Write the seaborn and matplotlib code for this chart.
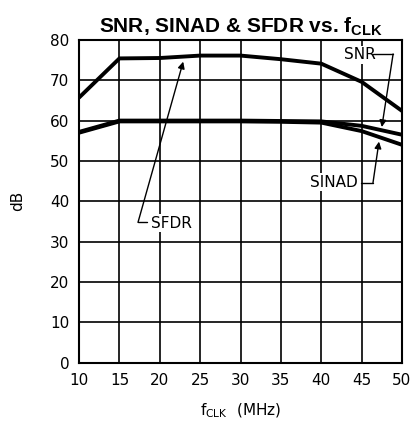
import numpy as np
import pandas as pd
import seaborn as sns
import matplotlib
matplotlib.use("Agg")
import matplotlib.pyplot as plt

# values
fclk = [10, 15, 20, 25, 30, 35, 40, 45, 50]
sfdr = [65.7, 75.4, 75.5, 76.1, 76.1, 75.2, 74.1, 69.6, 62.4]
snr = [57.2, 60.0, 60.0, 60.0, 60.0, 59.9, 59.8, 58.7, 56.5]
sinad = [57.0, 59.8, 59.8, 59.8, 59.8, 59.7, 59.5, 57.4, 54.0]

sns.set_style("white")
plt.rcParams['font.family'] = ['DejaVu Sans']
plt.rcParams['text.color'] = 'black'
plt.rcParams['axes.labelcolor'] = 'black'
plt.rcParams['xtick.color'] = 'black'
plt.rcParams['ytick.color'] = 'black'
plt.rcParams['mathtext.fontset'] = 'custom'
plt.rcParams['mathtext.bf'] = 'Liberation Sans:bold'
plt.rcParams['mathtext.rm'] = 'DejaVu Sans'
plt.rcParams['mathtext.it'] = 'DejaVu Sans'

df = pd.DataFrame({
    'fclk': fclk * 3,
    'dB': sfdr + snr + sinad,
    'curve': ['SFDR'] * len(fclk) + ['SNR'] * len(fclk) + ['SINAD'] * len(fclk),
})

fig = plt.figure(figsize=(4.14, 4.33), dpi=100)
ax = fig.add_axes([0.191, 0.162, 0.780, 0.746])

sns.lineplot(data=df, x='fclk', y='dB', units='curve', estimator=None,
             color='black', lw=2.8, ax=ax, legend=False, zorder=3)

ax.set_xlim(10, 50)
ax.set_ylim(0, 80)
ax.set_xticks(np.arange(10, 51, 5))
ax.set_yticks(np.arange(0, 81, 10))
ax.grid(True, color='black', lw=1.2)
for s in ax.spines.values():
    s.set_color('black')
    s.set_linewidth(1.5)
ax.tick_params(length=0, labelsize=11, pad=7)

ax.set_xlabel(r'f$_{\rm CLK}$  (MHz)', fontsize=11, labelpad=10)
ax.set_ylabel('dB', fontsize=11, labelpad=18)
ax.set_title(r'SNR, SINAD & SFDR vs. f$_{\mathbf{CLK}}$', fontsize=15,
             fontweight='bold', family='Liberation Sans', pad=5)

arrow = dict(arrowstyle='-|>', color='black', lw=1, mutation_scale=10,
             shrinkA=0, shrinkB=0)
# SNR label
ax.text(44.8, 76.3, 'SNR', fontsize=11, ha='center', va='center',
        bbox=dict(fc='white', ec='none', pad=1), zorder=4)
ax.plot([46.4, 48.9], [76.5, 76.5], color='black', lw=1, zorder=5)
ax.annotate('', xy=(47.5, 58.4), xytext=(48.9, 76.5), arrowprops=arrow, zorder=5)
# SINAD label
ax.text(41.6, 44.7, 'SINAD', fontsize=11, ha='center', va='center',
        bbox=dict(fc='white', ec='none', pad=1), zorder=4)
ax.plot([44.9, 46.4], [44.5, 44.5], color='black', lw=1, zorder=5)
ax.annotate('', xy=(47.15, 54.8), xytext=(46.4, 44.5), arrowprops=arrow, zorder=5)
# SFDR label
ax.text(21.5, 34.6, 'SFDR', fontsize=11, ha='center', va='center',
        bbox=dict(fc='white', ec='none', pad=1), zorder=4)
ax.plot([17.3, 18.4], [34.8, 34.8], color='black', lw=1, zorder=5)
ax.annotate('', xy=(22.9, 74.6), xytext=(17.3, 34.8), arrowprops=arrow, zorder=5)

fig.savefig('out.png', dpi=100)
